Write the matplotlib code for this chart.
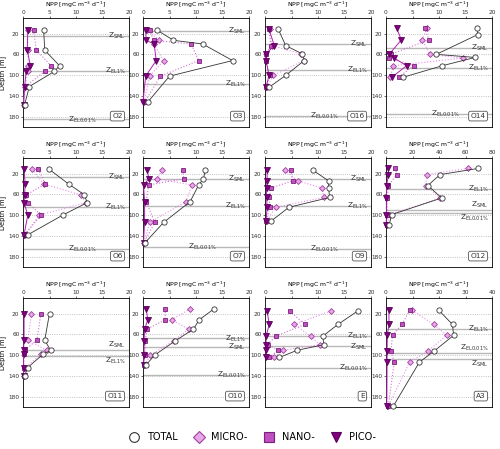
import matplotlib
matplotlib.use("Agg")
import matplotlib.pyplot as plt
from matplotlib.lines import Line2D

# values, one dict per station
O2 = dict(depth=[13, 52, 82, 93, 122, 157],
          total=[3.9, 4.1, 6.9, 5.9, 1.2, 0.3],
          micro=[0.9, 0.9, 1.0, 0.9, 0.4, 0.1],
          nano=[2.0, 2.5, 5.3, 4.1, 0.4, 0.1],
          pico=[0.9, 0.8, 1.4, 0.6, 0.3, 0.1],
          refs=[("SML", 25), ("EL1%", 91.5), ("EL0.01%", 185.5)], xmax=20)
O3 = dict(depth=[13, 33, 40, 72, 102, 152],
          total=[2.6, 5.75, 11.25, 16.9, 5.0, 0.9],
          micro=[0.75, 3.1, 2.0, 3.9, 1.25, 0.2],
          nano=[1.25, 2.0, 9.1, 10.5, 3.3, 0.3],
          pico=[0.5, 0.6, 2.1, 2.5, 0.5, 0.0],
          refs=[("SML", 14.5), ("EL1%", 117.6)], xmax=20)
O16 = dict(depth=[11.5, 43, 59, 72, 100.6, 123.6],
           total=[2.5, 3.9, 7.0, 7.4, 3.9, 0.75],
           micro=[0.9, 1.25, 6.8, 7.3, 1.6, 0.3],
           nano=[0.75, 1.1, 0.2, 0.2, 0.9, 0.2],
           pico=[0.75, 1.75, 0.2, 0.2, 0.75, 0.2],
           refs=[("SML", 40), ("EL1%", 90), ("EL0.01%", 179)], xmax=20)
O14 = dict(depth=[9.7, 32, 60, 67, 82, 104],
           tdepth=[8.5, 22, 60, 66, 82, 104],
           total=[17.2, 17.3, 9.5, 16.8, 10.6, 3.3],
           micro=[7.8, 6.8, 8.3, 14.5, 1.4, 0.8],
           nano=[7.3, 8.1, 0.9, 0.6, 5.2, 2.4],
           pico=[2.0, 2.9, 0.6, 1.5, 3.9, 1.1],
           refs=[("SML", 48), ("EL1%", 87), ("EL0.01%", 175)], xmax=20)
O6 = dict(depth=[11.5, 40, 61, 76, 100, 138],
          total=[4.9, 8.6, 11.6, 12.1, 7.5, 0.9],
          micro=[1.75, 3.9, 10.9, 11.9, 3.1, 0.3],
          nano=[2.9, 4.2, 0.6, 0.9, 3.4, 0.3],
          pico=[0.2, 0.4, 0.3, 0.2, 0.9, 0.2],
          refs=[("SML", 26.6), ("EL1%", 84), ("EL0.01%", 165.5)], xmax=20)
O7 = dict(depth=[14, 30, 42, 74, 114, 153],
          total=[11.75, 11.4, 10.5, 8.9, 3.9, 0.4],
          micro=[3.6, 2.7, 9.25, 8.1, 1.25, 0.2],
          nano=[7.5, 7.7, 1.1, 0.6, 2.2, 0.2],
          pico=[0.8, 1.1, 0.1, 0.3, 0.3, 0.1],
          refs=[("SML", 29.7), ("EL1%", 82), ("EL0.01%", 160.7)], xmax=20)
O9 = dict(depth=[14, 34, 48, 66, 85, 112],
          total=[9.1, 12.0, 12.0, 12.2, 4.5, 1.1],
          micro=[3.75, 6.25, 10.8, 11.1, 2.0, 0.3],
          nano=[4.9, 5.2, 1.1, 0.8, 0.9, 0.2],
          pico=[0.4, 0.4, 0.3, 0.3, 0.4, 0.2],
          refs=[("SML", 29.7), ("EL1%", 82), ("EL0.01%", 165)], xmax=20)
O12 = dict(depth=[10, 22, 43, 67, 99, 120],
           total=[69.8, 40.8, 31.6, 42.0, 4.3, 2.3],
           micro=[61.7, 31.0, 30.0, 41.0, 3.0, 1.0],
           nano=[6.9, 8.2, 1.8, 1.0, 1.0, 0.5],
           pico=[1.8, 1.8, 0.5, 0.3, 0.3, 0.2],
           refs=[("EL1%", 49), ("SML", 89.5), ("EL0.01%", 95.5)], xmax=80)
O11 = dict(depth=[20, 71, 91, 98.5, 124, 140],
           total=[5.0, 4.1, 5.2, 3.75, 0.9, 0.3],
           micro=[1.6, 0.9, 4.5, 3.4, 0.4, 0.1],
           nano=[3.4, 2.6, 0.3, 0.2, 0.2, 0.1],
           pico=[0.2, 0.2, 0.1, 0.1, 0.1, 0.1],
           refs=[("SML", 91), ("EL1%", 101.5)], xmax=20)
O10 = dict(depth=[11, 32, 50, 72.5, 100, 120],
           total=[13.4, 10.6, 9.5, 6.1, 2.2, 0.5],
           micro=[8.9, 5.4, 8.6, 5.8, 1.4, 0.3],
           nano=[4.2, 4.2, 0.75, 0.4, 0.4, 0.2],
           pico=[0.6, 0.9, 0.3, 0.2, 0.2, 0.1],
           refs=[("EL1%", 68), ("SML", 85), ("EL0.01%", 138)], xmax=20)
E = dict(depth=[15, 41, 63.5, 80, 90.6, 104.5],
         total=[17.5, 13.75, 10.9, 11.1, 6.1, 2.7],
         micro=[12.4, 5.5, 8.6, 10.3, 3.4, 1.75],
         nano=[4.7, 7.5, 2.0, 0.5, 2.5, 0.75],
         pico=[0.4, 0.8, 0.2, 0.2, 0.2, 0.2],
         refs=[("EL1%", 63.5), ("SML", 83.4), ("EL0.01%", 124)], xmax=20)
A3 = dict(depth=[14, 41, 62, 92.5, 113.6, 198],
          total=[20.0, 25.1, 25.5, 18.1, 12.6, 2.8],
          micro=[9.8, 18.1, 22.9, 15.8, 8.9, 0.9],
          nano=[8.9, 6.0, 2.5, 1.8, 3.1, 0.9],
          pico=[1.1, 1.1, 0.5, 0.4, 0.4, 0.3],
          refs=[("EL1%", 49), ("EL0.01%", 95.5), ("SML", 107.5)], xmax=40)

stations = [("O2", O2), ("O3", O3), ("O16", O16), ("O14", O14),
            ("O6", O6), ("O7", O7), ("O9", O9), ("O12", O12),
            ("O11", O11), ("O10", O10), ("E", E), ("A3", A3)]

depth_ticks = [20, 60, 100, 140, 180]

styles = {
    "micro": dict(marker="D", ms=3.0, mfc="#e8a8e8", mec="#a040a0", mew=0.6, color="#e890e8", ls=":", lw=0.8),
    "nano": dict(marker="s", ms=3.2, mfc="#c050c0", mec="#7a207a", mew=0.6, color="#d070d0", ls=":", lw=0.8),
    "pico": dict(marker="v", ms=3.8, mfc="#800080", mec="#5a005a", mew=0.6, color="#b020b0", ls="-", lw=0.7),
    "total": dict(marker="o", ms=3.8, mfc="white", mec="#333333", mew=0.6, color="#333333", ls="-", lw=0.6),
}

plt.rcParams["font.family"] = "DejaVu Sans"
plt.rcParams["mathtext.fontset"] = "dejavusans"
fig = plt.figure(figsize=(5.0, 4.49), dpi=100)

col_left = [23, 143, 265, 386]
row_top = [18, 158, 298]
W, H = 106, 109

for i, (name, st) in enumerate(stations):
    r, c = divmod(i, 4)
    ax = fig.add_axes([col_left[c] / 500, 1 - (row_top[r] + H) / 449, W / 500, H / 449])
    xmax = st["xmax"]
    ax.set_xlim(0, xmax)
    ax.set_ylim(200, -10)
    ax.set_yticks(depth_ticks)
    ax.set_xticks([xmax * k / 4 for k in range(5)])
    ax.set_xticklabels([f"{xmax * k / 4:g}" for k in range(5)])
    ax.xaxis.tick_top()
    ax.xaxis.set_label_position("top")
    ax.tick_params(labelsize=4.2, length=1.5, width=0.5, pad=1.0, colors="#333333")
    for s in ax.spines.values():
        s.set_linewidth(0.6)
    ax.set_xlabel("NPP [mgC m$^{-3}$ d$^{-1}$]", fontsize=4.4, labelpad=2.0)
    if c == 0:
        ax.set_ylabel("Depth [m]", fontsize=4.8, labelpad=1.5)
    for d in depth_ticks:
        ax.axhline(d, color="#b0b0b0", ls=":", lw=0.6, zorder=0)

    refs = sorted(st["refs"], key=lambda t: t[1])
    for j, (lab, d) in enumerate(refs):
        ax.axhline(d, color="#b8b8b8", lw=1.0, zorder=1)
        va = "center"
        if j + 1 < len(refs) and refs[j + 1][1] - d < 15:
            va = "bottom"
        elif j > 0 and d - refs[j - 1][1] < 15:
            va = "top"
        x = 0.97 if d < 150 else 0.70
        ax.text(x, d, "Z$_{\\mathrm{" + lab.replace("%", "\\%") + "}}$",
                transform=ax.get_yaxis_transform(), ha="right", va=va,
                fontsize=5.2, color="#333333", zorder=2)

    for key in ["micro", "nano", "pico", "total"]:
        y = st["tdepth"] if key == "total" and "tdepth" in st else st["depth"]
        ax.plot(st[key], y, zorder=3, clip_on=False, **styles[key])

    ax.text(0.94, 0.10, name, transform=ax.transAxes, ha="right", va="center",
            fontsize=5.3, color="#333333",
            bbox=dict(boxstyle="round,pad=0.25", fc="white", ec="#555555", lw=0.6))

handles = [
    Line2D([], [], ls="none", marker="o", ms=7, mfc="white", mec="#333333", mew=0.8),
    Line2D([], [], ls="none", marker="D", ms=6, mfc="#e8a8e8", mec="#a040a0", mew=0.8),
    Line2D([], [], ls="none", marker="s", ms=6.5, mfc="#c050c0", mec="#7a207a", mew=0.8),
    Line2D([], [], ls="none", marker="v", ms=7.5, mfc="#800080", mec="#5a005a", mew=0.8),
]
fig.legend(handles, ["TOTAL", "MICRO-", "NANO-", "PICO-"], loc="center",
           bbox_to_anchor=(0.5, 1 - 437 / 449), ncol=4, frameon=False,
           fontsize=7, handletextpad=0.3, columnspacing=1.2)

fig.savefig("out.png", dpi=100)
